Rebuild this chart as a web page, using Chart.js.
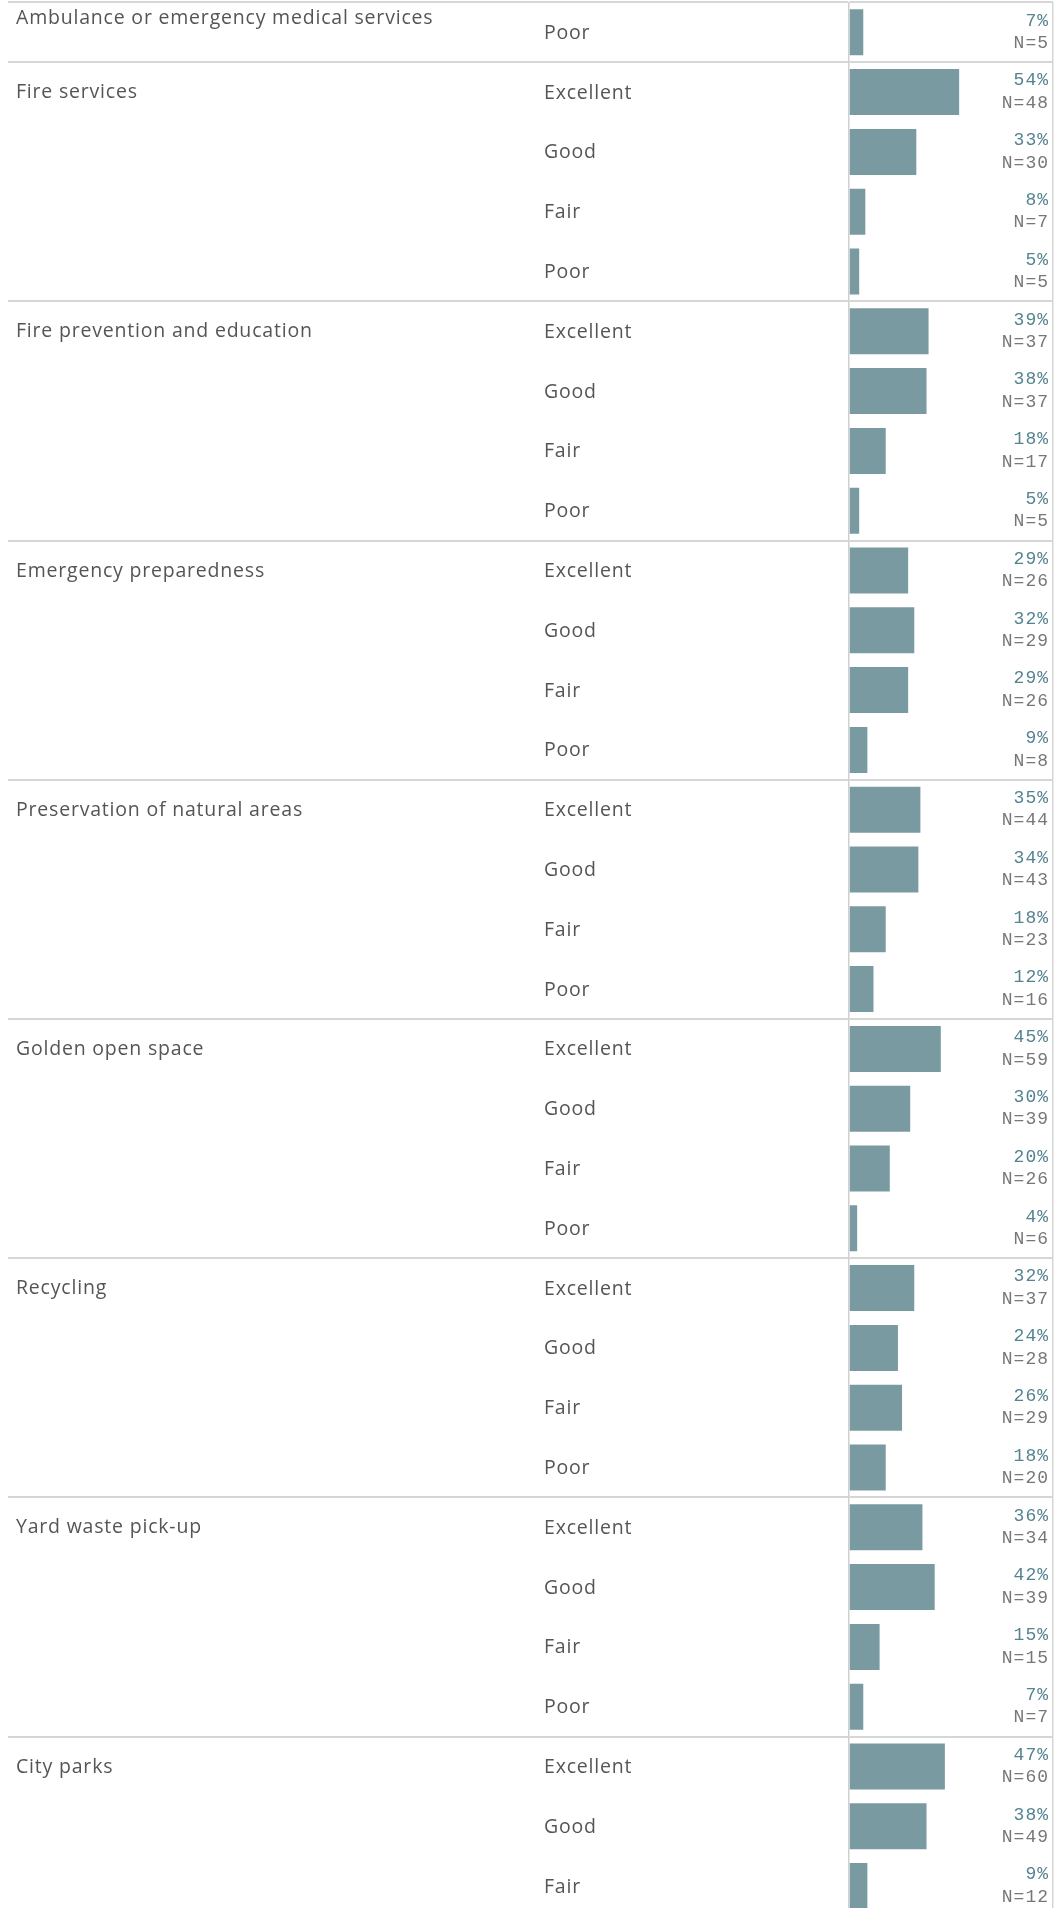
<!DOCTYPE html>
<html>
<head>
<meta charset="utf-8">
<title>Service ratings</title>
<script src="https://cdn.jsdelivr.net/npm/chart.js@4.4.1/dist/chart.umd.min.js"></script>
<style>
    html, body { margin: 0; padding: 0; background: #fff; overflow: hidden; }
    #ratings-wrap { width: 1061px; height: 1916px; }
</style>
</head>
<body>
<div id="ratings-wrap"><canvas id="ratings-canvas" width="1061" height="1916"></canvas></div>
<script>
var services = [
    'Ambulance or emergency medical services',
    'Fire services',
    'Fire prevention and education',
    'Emergency preparedness',
    'Preservation of natural areas',
    'Golden open space',
    'Recycling',
    'Yard waste pick-up',
    'City parks'
];
var serviceRowCount = [1, 4, 4, 4, 4, 4, 4, 4, 3];

var rowRatings = [
    'Poor',
    'Excellent', 'Good', 'Fair', 'Poor',
    'Excellent', 'Good', 'Fair', 'Poor',
    'Excellent', 'Good', 'Fair', 'Poor',
    'Excellent', 'Good', 'Fair', 'Poor',
    'Excellent', 'Good', 'Fair', 'Poor',
    'Excellent', 'Good', 'Fair', 'Poor',
    'Excellent', 'Good', 'Fair', 'Poor',
    'Excellent', 'Good', 'Fair'
];
var pctValues = [
    7,
    54, 33, 8, 5,
    39, 38, 18, 5,
    29, 32, 29, 9,
    35, 34, 18, 12,
    45, 30, 20, 4,
    32, 24, 26, 18,
    36, 42, 15, 7,
    47, 38, 9
];
var nValues = [
    5,
    48, 30, 7, 5,
    37, 37, 17, 5,
    26, 29, 26, 8,
    44, 43, 23, 16,
    59, 39, 26, 6,
    37, 28, 29, 20,
    34, 39, 15, 7,
    60, 49, 12
];

(function () {
    var colors = {
        bar: '#7a9aa2',
        text: '#555555',
        pct: '#55838f',
        count: '#777777',
        rule: '#d6d6d6',
        axis: '#d0d0d0',
        none: 'rgba(0,0,0,0)'
    };

    // first row index of each service block
    var groupStarts = [];
    var acc = 0;
    serviceRowCount.forEach(function (n) {
        groupStarts.push(acc);
        acc += n;
    });

    var rowKeys = rowRatings.map(function (r, i) {
        return String(i);
    });

    var labelPlugin = {
        id: 'rowLabels',
        afterDraw: function (chart) {
            var ctx = chart.ctx;
            var yScale = chart.scales.y;
            var xScale = chart.scales.x;
            var area = chart.chartArea;
            ctx.save();
            ctx.textBaseline = 'middle';

            ctx.font = '19.5px "Open Sans", "Noto Sans", sans-serif';
            ctx.letterSpacing = '0.8px';
            ctx.fillStyle = colors.text;
            ctx.textAlign = 'left';
            rowRatings.forEach(function (r, i) {
                ctx.fillText(r, 544, yScale.getPixelForValue(i) + 1);
            });
            groupStarts.forEach(function (start, g) {
                var y = g === 0 ? area.top + 16 : yScale.getPixelForValue(start) + 0.5;
                ctx.fillText(services[g], 16, y);
            });

            ctx.font = '18px "Courier New", "Liberation Mono", monospace';
            ctx.letterSpacing = '1px';
            ctx.textAlign = 'right';
            var xr = xScale.getPixelForValue(1) - 4;
            pctValues.forEach(function (p, i) {
                var y = yScale.getPixelForValue(i);
                ctx.fillStyle = colors.pct;
                ctx.fillText(p + '%', xr, y - 11.5);
                ctx.fillStyle = colors.count;
                ctx.fillText('N=' + nValues[i], xr, y + 11);
            });
            ctx.restore();
        }
    };

    var canvas = document.getElementById('ratings-canvas');
    new Chart(canvas.getContext('2d'), {
        type: 'bar',
        data: {
            labels: rowKeys,
            datasets: [{
                data: pctValues.map(function (p) { return p / 100; }),
                backgroundColor: colors.bar,
                borderWidth: 0,
                barPercentage: 0.77,
                categoryPercentage: 1
            }]
        },
        options: {
            indexAxis: 'y',
            responsive: false,
            animation: false,
            devicePixelRatio: 1,
            events: [],
            layout: { padding: { top: 2.4, right: 8, bottom: 0, left: 0 } },
            plugins: {
                legend: { display: false },
                tooltip: { enabled: false }
            },
            scales: {
                x: {
                    position: 'bottom',
                    min: 0,
                    max: 1,
                    ticks: { display: false, stepSize: 1 },
                    grid: {
                        drawTicks: false,
                        lineWidth: 1.5,
                        color: function (c) {
                            return c.tick && c.tick.value === 1 ? colors.rule : colors.none;
                        }
                    },
                    border: { display: false },
                    afterFit: function (s) { s.height = 0; }
                },
                y: {
                    position: 'left',
                    ticks: { display: false },
                    grid: {
                        offset: true,
                        drawTicks: true,
                        tickLength: 841,
                        lineWidth: 2,
                        color: function (c) {
                            return c.index !== undefined && groupStarts.indexOf(c.index) >= 0 ? colors.rule : colors.none;
                        }
                    },
                    border: { display: true, color: colors.axis, width: 1.5 },
                    afterFit: function (s) { s.width = 849; }
                }
            }
        },
        plugins: [labelPlugin]
    });
})();
</script>
</body>
</html>
